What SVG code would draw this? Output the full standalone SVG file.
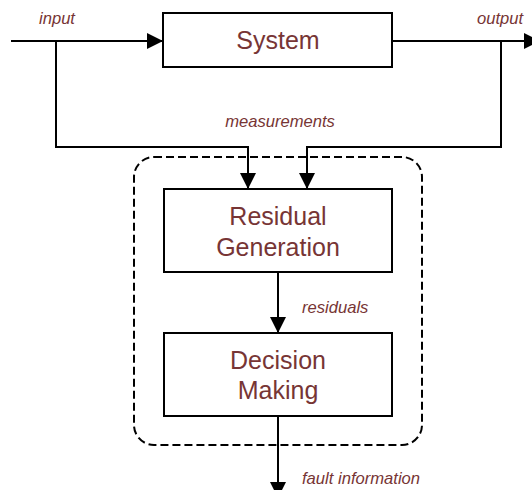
<svg xmlns="http://www.w3.org/2000/svg" width="532" height="490" viewBox="0 0 532 490">
  <defs>
    <marker id="arrow" viewBox="0 0 16 16" refX="16" refY="8" markerWidth="16" markerHeight="16" markerUnits="userSpaceOnUse" orient="auto">
      <path d="M0,0 L16,8 L0,16 Z" fill="#000"/>
    </marker>
    <style>
      .box { fill: #fff; stroke: #000; stroke-width: 2; }
      .wire { fill: none; stroke: #000; stroke-width: 2; }
      .big { font-family: "Liberation Sans", Arial, sans-serif; font-size: 25px; fill: #773535; text-anchor: middle; }
      .lbl { font-family: "Liberation Sans", Arial, sans-serif; font-size: 16.6px; font-style: italic; fill: #773535; }
    </style>
  </defs>
  <rect width="532" height="490" fill="#fff"/>

  <!-- dashed boundary around the diagnosis blocks -->
  <rect x="134" y="157" width="288" height="288" rx="20" ry="20" fill="none" stroke="#000" stroke-width="2" stroke-dasharray="8 4"/>

  <g id="connectors">
    <path class="wire" d="M11,41 H163" marker-end="url(#arrow)"/>
    <path class="wire" d="M392,41 H540" marker-end="url(#arrow)"/>
    <path class="wire" d="M56,41 V147 H248 V189" marker-end="url(#arrow)"/>
    <path class="wire" d="M501,41 V147 H307 V189" marker-end="url(#arrow)"/>
    <path class="wire" d="M278,272 V333" marker-end="url(#arrow)"/>
    <path class="wire" d="M278,416 V498" marker-end="url(#arrow)"/>
  </g>

  <g id="labels">
    <text class="lbl" x="39" y="24">input</text>
    <text class="lbl" x="477" y="24">output</text>
    <text class="lbl" x="280" y="127" text-anchor="middle">measurements</text>
    <text class="lbl" x="302" y="313">residuals</text>
    <text class="lbl" x="302" y="484">fault information</text>
  </g>

  <g id="system">
    <rect class="box" x="163" y="13" width="229" height="54"/>
    <text class="big" x="278" y="49">System</text>
  </g>

  <g id="residual-generation">
    <rect class="box" x="164" y="189" width="228" height="83"/>
    <text class="big" x="278" y="225">Residual</text>
    <text class="big" x="278" y="256">Generation</text>
  </g>

  <g id="decision-making">
    <rect class="box" x="164" y="333" width="228" height="83"/>
    <text class="big" x="278" y="369">Decision</text>
    <text class="big" x="278" y="399">Making</text>
  </g>
</svg>
